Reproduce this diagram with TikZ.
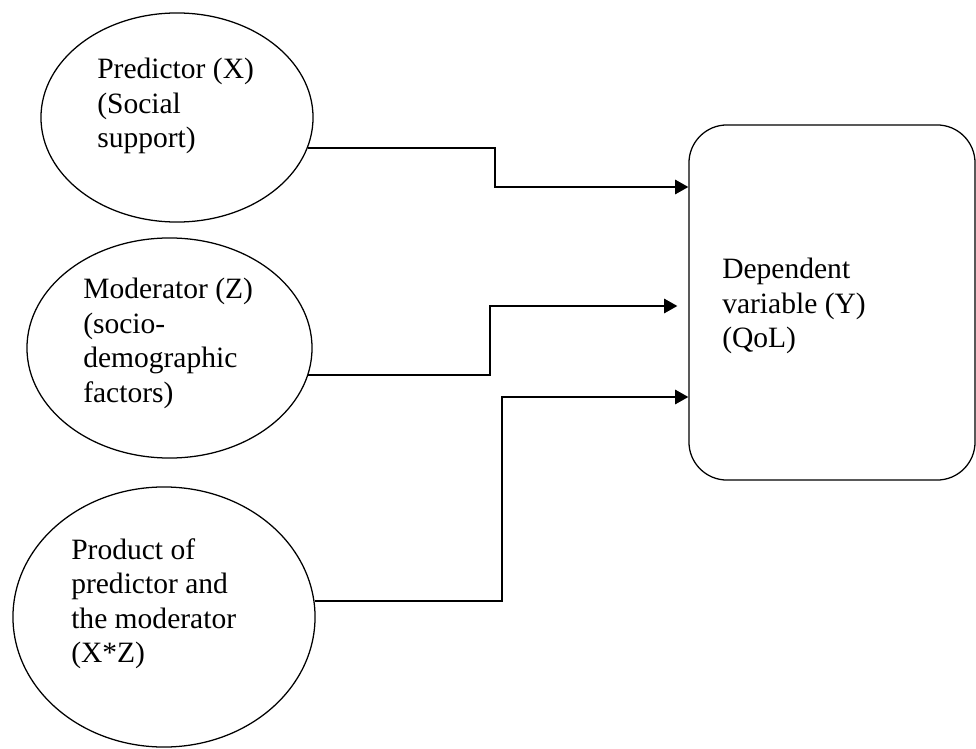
\documentclass[tikz,border=0pt]{standalone}
\usepackage{fontspec}
\setmainfont{Liberation Serif}
\usepackage{tikz}
\usetikzlibrary{arrows.meta,positioning,shapes.geometric}

\begin{document}
\begin{tikzpicture}[
    x=0.025cm, y=-0.025cm,
    var/.style={draw, ellipse, line width=0.9pt},
    dvar/.style={draw, rectangle, rounded corners=0.95cm, line width=0.9pt},
    txt/.style={anchor=north west, inner sep=0pt, align=left, font=\fontsize{21}{24.6}\selectfont},
    arr/.style={-{Triangle[length=0.33cm, width=0.36cm]}, line width=1.2pt}
  ]
    \useasboundingbox (0,0) rectangle (976,749);
    \node[var, minimum width=6.8cm, minimum height=5.225cm] (pred) at (177,117.5) {};
    \node[var, minimum width=7.125cm, minimum height=5.5cm] (mod) at (169.5,348) {};
    \node[var, minimum width=7.55cm, minimum height=6.5cm] (prod) at (164,617) {};
    \node[dvar, minimum width=7.15cm, minimum height=8.875cm] (dep) at (832,302.5) {};
    \node[txt] (predtxt) at (97,58) {Predictor (X)\\(Social\\support)};
    \node[txt] (modtxt) at (83,278) {Moderator (Z)\\(socio-\\demographic\\factors)};
    \node[txt] (prodtxt) at (71,538) {Product of\\predictor and\\the moderator\\(X*Z)};
    \node[txt] (deptxt) at (722,258) {Dependent\\variable (Y)\\(QoL)};
    \draw[arr] (pred.-13.4) -| (495,187) -- (dep.west |- 0,187);
    \draw[arr, shorten >=0.275cm] (mod.-11.5) -| (490,306) -- (dep.west |- 0,306);
    \draw[arr] (prod.6) -| (502,397) -- (dep.west |- 0,397);
  \end{tikzpicture}
\end{document}
